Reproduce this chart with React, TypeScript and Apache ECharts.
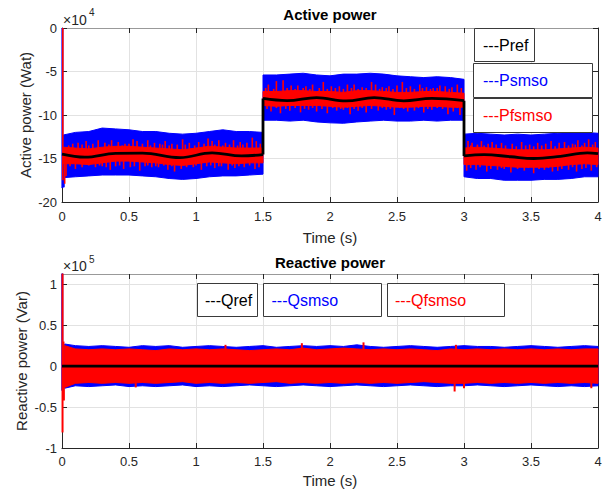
import React, { useEffect, useRef } from 'react';
import * as echarts from 'echarts';

const FONT = '"Liberation Sans", Arial, Helvetica, sans-serif';
const AX = '#262626';

// ---------- Active power (x10^4 W) ----------
const pBandT = [0.01, 0.1, 0.2, 0.3, 0.4, 0.5, 0.6, 0.7, 0.8, 0.9, 1.0, 1.1, 1.2, 1.3, 1.4, 1.5,
  1.5, 1.6, 1.7, 1.8, 1.9, 2.0, 2.1, 2.2, 2.3, 2.4, 2.5, 2.6, 2.7, 2.8, 2.9, 3.0,
  3.0, 3.1, 3.2, 3.3, 3.4, 3.5, 3.6, 3.7, 3.8, 3.9, 4.0];
const pBlueHi = [-12.3, -12.0, -11.9, -11.5, -11.6, -11.7, -11.9, -11.9, -12.1, -12.2, -12.1, -11.9, -11.7, -11.9, -11.9, -12.0,
  -5.4, -5.4, -5.3, -5.2, -5.4, -5.5, -5.3, -5.3, -5.2, -5.3, -5.5, -5.6, -5.7, -5.6, -5.7, -5.9,
  -12.2, -12.1, -12.2, -12.3, -12.2, -12.3, -12.2, -12.1, -12.0, -12.0, -12.1];
const pBlueLo = [-17.2, -17.1, -17.0, -16.9, -16.9, -16.9, -17.0, -17.1, -17.3, -17.4, -17.3, -17.1, -17.0, -17.0, -16.9, -16.8,
  -10.6, -10.6, -10.7, -10.6, -10.8, -10.9, -10.95, -10.8, -10.7, -10.6, -10.7, -10.7, -10.6, -10.7, -10.6, -10.6,
  -17.1, -17.3, -17.3, -17.5, -17.5, -17.5, -17.4, -17.4, -17.3, -17.1, -17.1];
const pRedHi = [-13.7, -13.8, -13.9, -13.7, -13.6, -13.6, -13.7, -13.8, -13.9, -14.0, -13.8, -13.6, -13.7, -13.8, -13.8, -13.8,
  -7.3, -7.3, -7.2, -7.2, -7.3, -7.3, -7.4, -7.2, -7.2, -7.3, -7.4, -7.4, -7.3, -7.3, -7.4, -7.5,
  -13.8, -13.7, -13.8, -13.9, -14.0, -14.0, -14.0, -13.9, -13.8, -13.7, -13.8];
const pRedLo = [-15.6, -15.6, -15.7, -15.5, -15.3, -15.3, -15.4, -15.5, -15.7, -15.8, -15.6, -15.4, -15.5, -15.6, -15.5, -15.5,
  -8.9, -9.0, -8.9, -8.9, -8.9, -9.0, -9.1, -9.0, -8.9, -9.0, -9.1, -9.1, -9.0, -9.0, -9.1, -9.1,
  -15.7, -15.7, -15.8, -15.9, -16.0, -16.0, -16.0, -15.9, -15.7, -15.6, -15.7];

const prefT = [0.0, 0.17, 0.4, 0.6, 0.88, 1.12, 1.34, 1.5,
  1.5, 1.68, 1.9, 2.12, 2.33, 2.55, 2.76, 3.0,
  3.0, 3.15, 3.35, 3.52, 3.72, 3.92, 4.0];
const prefV = [-14.5, -14.85, -14.4, -14.38, -14.9, -14.35, -14.7, -14.55,
  -8.1, -8.35, -8.0, -8.38, -8.0, -8.37, -8.1, -8.35,
  -14.7, -14.55, -14.8, -15.0, -14.75, -14.35, -14.45];

const pStepT = [1.5, 3.0];
const pLevel = [-14.6, -8.2, -14.7];

const pRedSpikes: number[][] = [
  [0.006, 0], [0.006, -17.5], [0.02, -17.9], [0.03, -17.0],
  // segment 1, tall
  [0.08, -13.3], [0.12, -13.2], [0.18, -13.0], [0.23, -13.3], [0.27, -12.9], [0.32, -13.2], [0.37, -12.9],
  [0.42, -13.1], [0.47, -13.3], [0.53, -12.8], [0.56, -13.0], [0.6, -13.3], [0.64, -12.9], [0.69, -13.2],
  [0.73, -13.3], [0.77, -13.0], [0.82, -13.3], [0.86, -13.4], [0.9, -12.8], [0.95, -13.2], [1.02, -13.1],
  [1.06, -13.3], [1.09, -12.7], [1.12, -13.0], [1.17, -12.9], [1.22, -13.2], [1.28, -12.9], [1.33, -13.1],
  [1.38, -13.2], [1.42, -12.6], [1.45, -13.0],
  [0.1, -16.2], [0.15, -16.0], [0.25, -16.0], [0.3, -15.9], [0.36, -16.3], [0.46, -16.2], [0.51, -16.0],
  [0.58, -16.4], [0.62, -15.9], [0.67, -16.0], [0.72, -16.0], [0.79, -16.3], [0.84, -16.5], [0.89, -16.2],
  [0.98, -16.0], [1.04, -16.3], [1.14, -16.1], [1.19, -15.9], [1.24, -16.3], [1.29, -16.1], [1.36, -16.0], [1.44, -16.2],
  // segment 1, short
  [0.05, -13.5], [0.15, -13.4], [0.2, -13.5], [0.35, -13.4], [0.45, -13.5], [0.5, -13.3], [0.66, -13.5],
  [0.75, -13.4], [0.8, -13.5], [0.92, -13.4], [0.99, -13.5], [1.14, -13.4], [1.2, -13.5], [1.25, -13.4],
  [1.31, -13.5], [1.35, -13.4], [1.48, -13.3],
  [0.06, -15.9], [0.2, -15.8], [0.28, -15.8], [0.33, -16.0], [0.4, -15.9], [0.43, -15.8], [0.54, -15.9],
  [0.64, -15.8], [0.7, -15.9], [0.76, -15.8], [0.82, -15.9], [0.93, -16.0], [1.0, -15.8], [1.08, -15.9],
  [1.11, -15.8], [1.17, -15.9], [1.27, -15.8], [1.32, -15.9], [1.4, -15.8], [1.47, -16.0],
  // segment 2, tall
  [1.54, -6.5], [1.6, -6.1], [1.65, -6.0], [1.71, -6.6], [1.76, -6.6], [1.82, -6.7], [1.87, -6.5], [1.95, -6.2],
  [2.01, -6.7], [2.07, -6.7], [2.13, -6.5], [2.18, -6.5], [2.24, -6.8], [2.31, -6.2], [2.34, -6.5], [2.39, -6.8],
  [2.44, -6.7], [2.5, -6.6], [2.54, -6.2], [2.6, -6.7], [2.67, -6.5], [2.72, -6.8], [2.77, -6.9], [2.82, -6.6],
  [2.86, -6.7], [2.91, -6.8], [2.95, -6.5],
  [1.56, -9.6], [1.63, -9.8], [1.7, -9.5], [1.78, -9.7], [1.84, -9.4], [1.9, -9.6], [1.98, -9.8], [2.05, -9.5],
  [2.1, -9.4], [2.15, -9.9], [2.21, -9.5], [2.27, -9.7], [2.36, -9.5], [2.42, -9.4], [2.48, -10.0], [2.58, -9.6],
  [2.63, -9.5], [2.7, -9.7], [2.76, -9.4], [2.88, -9.9], [2.92, -9.6], [2.97, -10.0],
  // segment 2, short
  [1.52, -6.9], [1.58, -7.0], [1.68, -6.9], [1.74, -7.0], [1.8, -6.9], [1.85, -7.0], [1.92, -6.9], [1.98, -7.0],
  [2.04, -6.9], [2.1, -7.0], [2.16, -6.9], [2.21, -7.0], [2.27, -6.9], [2.37, -7.0], [2.42, -6.9], [2.47, -7.0],
  [2.57, -6.9], [2.63, -7.0], [2.69, -6.9], [2.75, -7.0], [2.8, -6.9], [2.89, -7.0], [2.98, -6.9],
  [1.53, -9.3], [1.6, -9.2], [1.67, -9.3], [1.74, -9.2], [1.81, -9.3], [1.87, -9.2], [1.94, -9.3], [2.02, -9.2],
  [2.08, -9.3], [2.13, -9.2], [2.18, -9.3], [2.24, -9.2], [2.31, -9.3], [2.39, -9.2], [2.45, -9.3], [2.52, -9.2],
  [2.55, -9.3], [2.66, -9.2], [2.73, -9.3], [2.8, -9.2], [2.84, -9.3], [2.95, -9.2],
  // segment 3, tall
  [3.03, -13.0], [3.06, -13.2], [3.13, -13.0], [3.18, -13.3], [3.21, -13.1], [3.28, -13.2], [3.36, -13.3],
  [3.43, -13.1], [3.49, -13.4], [3.55, -13.2], [3.61, -13.3], [3.65, -13.0], [3.71, -13.2], [3.75, -13.1],
  [3.81, -13.3], [3.85, -12.9], [3.9, -13.2], [3.93, -12.8], [3.98, -13.1],
  [3.02, -16.4], [3.09, -16.3], [3.17, -16.5], [3.25, -16.3], [3.3, -16.2], [3.35, -16.6], [3.45, -16.4],
  [3.52, -16.7], [3.6, -16.3], [3.66, -16.5], [3.7, -16.4], [3.78, -16.3], [3.84, -16.5], [3.88, -16.2], [3.95, -16.4],
  // segment 3, short
  [3.05, -13.5], [3.1, -13.4], [3.15, -13.5], [3.24, -13.4], [3.31, -13.5], [3.39, -13.6], [3.46, -13.5],
  [3.52, -13.6], [3.58, -13.5], [3.68, -13.6], [3.78, -13.5], [3.83, -13.4], [3.88, -13.5], [3.96, -13.4],
  [3.05, -16.1], [3.12, -16.0], [3.2, -16.2], [3.28, -16.1], [3.33, -16.0], [3.4, -16.2], [3.48, -16.1],
  [3.56, -16.2], [3.63, -16.1], [3.73, -16.2], [3.81, -16.0], [3.91, -16.1], [3.99, -16.0],
];
const pBlueSpikes: number[][] = [[0.003, 0], [0.003, -18.4], [0.013, -18.3]];

// ---------- Reactive power (x10^5 Var) ----------
const qT = [0.02, 0.1, 0.2, 0.3, 0.4, 0.5, 0.6, 0.7, 0.8, 0.9, 1.0, 1.1, 1.2, 1.3, 1.4, 1.5, 1.6, 1.7, 1.8, 1.9,
  2.0, 2.1, 2.2, 2.3, 2.4, 2.5, 2.6, 2.7, 2.8, 2.9, 3.0, 3.1, 3.2, 3.3, 3.4, 3.5, 3.6, 3.7, 3.8, 3.9, 4.0];
const qBlueHi = [0.27, 0.25, 0.24, 0.25, 0.24, 0.23, 0.25, 0.24, 0.25, 0.23,
  0.24, 0.25, 0.24, 0.23, 0.24, 0.25, 0.23, 0.24, 0.25, 0.24,
  0.25, 0.24, 0.26, 0.24, 0.23, 0.24, 0.25, 0.24, 0.23, 0.24,
  0.25, 0.24, 0.24, 0.23, 0.24, 0.25, 0.24, 0.23, 0.24, 0.25, 0.24];
const qBlueLo = [-0.27, -0.24, -0.25, -0.24, -0.23, -0.25, -0.24, -0.25, -0.24, -0.23,
  -0.25, -0.24, -0.25, -0.24, -0.23, -0.24, -0.25, -0.24, -0.23, -0.24,
  -0.25, -0.24, -0.23, -0.24, -0.25, -0.24, -0.23, -0.24, -0.25, -0.24,
  -0.24, -0.23, -0.24, -0.25, -0.24, -0.23, -0.24, -0.25, -0.24, -0.25, -0.24];
const qRedHi = [0.25, 0.21, 0.2, 0.21, 0.2, 0.21, 0.2, 0.19, 0.21, 0.2,
  0.21, 0.2, 0.21, 0.2, 0.19, 0.2, 0.21, 0.2, 0.22, 0.2,
  0.21, 0.22, 0.21, 0.2, 0.21, 0.2, 0.21, 0.2, 0.19, 0.21,
  0.2, 0.21, 0.2, 0.21, 0.2, 0.21, 0.2, 0.21, 0.2, 0.21, 0.21];
const qRedLo = [-0.26, -0.21, -0.2, -0.21, -0.2, -0.21, -0.2, -0.21, -0.2, -0.19,
  -0.21, -0.2, -0.21, -0.2, -0.21, -0.2, -0.19, -0.21, -0.2, -0.21,
  -0.2, -0.21, -0.2, -0.21, -0.2, -0.21, -0.2, -0.19, -0.2, -0.21,
  -0.21, -0.2, -0.21, -0.2, -0.21, -0.2, -0.21, -0.2, -0.21, -0.2, -0.21];
const qRefT = [0, 4];
const qRefV = [0, 0];
const qStepT: number[] = [];
const qLevel = [0];
const qRedSpikes: number[][] = [
  [0.004, 1.13], [0.004, -0.81], [0.011, 0.3], [0.014, -0.42], [0.55, -0.26], [1.22, 0.26],
  [1.79, 0.28], [2.25, 0.29], [2.93, -0.31], [2.94, 0.26], [3.0, -0.27], [3.95, -0.27],
];
const qBlueSpikes: number[][] = [[0.002, 1.13], [0.002, -0.3]];

const xTickLabels = ['0', '0.5', '1', '1.5', '2', '2.5', '3', '3.5', '4'];

// ---------- helpers ----------
function segmentsOf(t: number[]) {
  const segs: number[][] = [];
  let s = 0;
  for (let i = 1; i < t.length; i++) {
    if (t[i] === t[i - 1]) { segs.push([s, i - 1]); s = i; }
  }
  segs.push([s, t.length - 1]);
  return segs;
}

function levelAt(t: number, steps: number[], levels: number[]) {
  let k = 0;
  while (k < steps.length && t >= steps[k]) k++;
  return levels[k];
}

function bandSeries(name: string, ai: number, t: number[], hi: number[], lo: number[], color: string, z: number) {
  const segs = segmentsOf(t);
  return {
    type: 'custom', name, coordinateSystem: 'cartesian2d', xAxisIndex: ai, yAxisIndex: ai, silent: true, z,
    data: t.map((x, i) => [x, lo[i], hi[i]]),
    encode: { x: 0, y: [1, 2] },
    renderItem: (params: any, api: any) => {
      if (params.dataIndex !== 0) return null;
      const children = segs.map(([s, e]) => {
        const top: number[][] = [];
        const bot: number[][] = [];
        for (let i = s; i <= e; i++) {
          top.push(api.coord([t[i], hi[i]]));
          bot.push(api.coord([t[i], lo[i]]));
        }
        return {
          type: 'polygon',
          shape: { points: top.concat(bot.reverse()) },
          style: { fill: color, stroke: color, lineWidth: 1 },
        };
      });
      return { type: 'group', children };
    },
  };
}

function spikeSeries(name: string, ai: number, spikes: number[][], steps: number[], levels: number[], color: string, w: number, z: number) {
  return {
    type: 'custom', name, coordinateSystem: 'cartesian2d', xAxisIndex: ai, yAxisIndex: ai, silent: true, z,
    data: spikes.map((s) => [s[0], s[1]]),
    encode: { x: 0, y: 1 },
    renderItem: (params: any, api: any) => {
      const t = api.value(0);
      const v = api.value(1);
      const b = levelAt(t, steps, levels);
      const p1 = api.coord([t, v]);
      const p2 = api.coord([t, b]);
      return {
        type: 'rect',
        shape: { x: p1[0] - w / 2, y: Math.min(p1[1], p2[1]), width: w, height: Math.abs(p2[1] - p1[1]) },
        style: { fill: color },
      };
    },
  };
}

function refSeries(name: string, ai: number, t: number[], v: number[], z: number) {
  const segs = segmentsOf(t);
  const out: any[] = segs.map(([s, e]) => ({
    type: 'line', name, xAxisIndex: ai, yAxisIndex: ai, smooth: 0.4, symbol: 'none', silent: true, z,
    lineStyle: { color: '#000', width: 2.8 },
    data: t.slice(s, e + 1).map((x, i) => [x, v[s + i]]),
  }));
  for (let k = 1; k < segs.length; k++) {
    const i = segs[k][0];
    out.push({
      type: 'line', name, xAxisIndex: ai, yAxisIndex: ai, symbol: 'none', silent: true, z,
      lineStyle: { color: '#000', width: 2.8 },
      data: [[t[i - 1], v[i - 1]], [t[i], v[i]]],
    });
  }
  return out;
}

function xBottom(gi: number, gap: number, margin: number) {
  return {
    type: 'value', gridIndex: gi, min: 0, max: 4, interval: 0.5, position: 'bottom',
    name: 'Time (s)', nameLocation: 'middle', nameGap: gap, nameMoveOverlap: false,
    nameTextStyle: { fontSize: 15, color: AX, fontFamily: FONT },
    axisLine: { show: true, onZero: false, lineStyle: { color: AX, width: 1 } },
    axisTick: { show: true, inside: true, length: 5, lineStyle: { color: AX } },
    axisLabel: {
      color: AX, fontSize: 13, margin, fontFamily: FONT,
      formatter: (val: number) => xTickLabels[Math.round(val * 2)] ?? '',
    },
    splitLine: { show: true, lineStyle: { color: '#e2e2e2', width: 1 } },
  };
}
function xTop(gi: number) {
  return {
    type: 'value', gridIndex: gi, min: 0, max: 4, interval: 0.5, position: 'top',
    axisLine: { show: true, onZero: false, lineStyle: { color: '#999', width: 1 } },
    axisTick: { show: true, inside: true, length: 5, lineStyle: { color: AX } },
    axisLabel: { show: false }, splitLine: { show: false },
  };
}
function yLeft(gi: number, min: number, max: number, interval: number, name: string, gap: number) {
  return {
    type: 'value', gridIndex: gi, min, max, interval, position: 'left',
    name, nameLocation: 'middle', nameGap: gap, nameMoveOverlap: false,
    nameTextStyle: { fontSize: 15, color: AX, fontFamily: FONT },
    axisLine: { show: true, onZero: false, lineStyle: { color: AX, width: 1 } },
    axisTick: { show: true, inside: true, length: 5, lineStyle: { color: AX } },
    axisLabel: { color: AX, fontSize: 13, margin: 5, fontFamily: FONT, showMaxLabel: max === 0 },
    splitLine: { show: true, lineStyle: { color: '#e2e2e2', width: 1 } },
  };
}
function yRight(gi: number, min: number, max: number, interval: number) {
  return {
    type: 'value', gridIndex: gi, min, max, interval, position: 'right',
    axisLine: { show: true, onZero: false, lineStyle: { color: AX, width: 1 } },
    axisTick: { show: true, inside: true, length: 5, lineStyle: { color: AX } },
    axisLabel: { show: false }, splitLine: { show: false },
  };
}

function txt(text: string, x: number, y: number, size: number, color: string, opts: any = {}) {
  return {
    type: 'text', x, y, z: 100, silent: true,
    style: {
      text, fill: color, fontSize: size, fontFamily: FONT, fontWeight: opts.bold ? 'bold' : 'normal',
      align: opts.align || 'left', textAlign: opts.align || 'left',
      verticalAlign: 'middle', textVerticalAlign: 'middle',
    },
  };
}
function box(x: number, y: number, w: number, h: number) {
  return {
    type: 'rect', z: 90, silent: true,
    shape: { x: x + 0.5, y: y + 0.5, width: w, height: h },
    style: { fill: '#fff', stroke: '#3a3a3a', lineWidth: 1 },
  };
}

export default function App() {
  const ref = useRef<HTMLDivElement>(null);
  useEffect(() => {
    if (!ref.current) return;
    const chart = echarts.init(ref.current, null, { renderer: 'svg' });
    const option: any = {
      animation: false,
      backgroundColor: '#fff',
      textStyle: { fontFamily: FONT },
      grid: [
        { left: 62, top: 28, width: 536, height: 174 },
        { left: 62, top: 274, width: 536, height: 174 },
      ],
      xAxis: [xBottom(0, 28, 8), xTop(0), xBottom(1, 25, 7), xTop(1)],
      yAxis: [
        yLeft(0, -20, 0, 5, 'Active power (Wat)', 29), yRight(0, -20, 0, 5),
        yLeft(1, -1, 1.125, 0.5, 'Reactive power (Var)', 33), yRight(1, -1, 1.125, 0.5),
      ],
      series: [
        bandSeries('Psmso', 0, pBandT, pBlueHi, pBlueLo, '#0000ff', 2),
        spikeSeries('Psmso', 0, pBlueSpikes, pStepT, pLevel, '#0000ff', 2, 3),
        bandSeries('Pfsmso', 0, pBandT, pRedHi, pRedLo, '#ff0000', 4),
        spikeSeries('Pfsmso', 0, pRedSpikes, pStepT, pLevel, '#ff0000', 1.6, 5),
        ...refSeries('Pref', 0, prefT, prefV, 6),
        bandSeries('Qsmso', 2, qT, qBlueHi, qBlueLo, '#0000ff', 2),
        spikeSeries('Qsmso', 2, qBlueSpikes, qStepT, qLevel, '#0000ff', 2, 3),
        bandSeries('Qfsmso', 2, qT, qRedHi, qRedLo, '#ff0000', 4),
        spikeSeries('Qfsmso', 2, qRedSpikes, qStepT, qLevel, '#ff0000', 2, 5),
        ...refSeries('Qref', 2, qRefT, qRefV, 6),
      ],
      graphic: [
        txt('Active power', 330, 14, 15, '#000', { bold: true, align: 'center' }),
        txt('Reactive power', 330, 262, 15, '#000', { bold: true, align: 'center' }),
        txt('×10', 63, 19.5, 14, AX),
        txt('4', 89, 12.5, 10, AX),
        txt('×10', 63, 266, 14, AX),
        txt('5', 89, 259.5, 10, AX),
        box(474, 28, 60, 33),
        box(473, 63, 119, 34),
        box(473, 98, 119, 34),
        txt('---Pref', 483, 45, 16, '#000'),
        txt('---Psmso', 483, 80, 16, '#0000ff'),
        txt('---Pfsmso', 483, 115, 16, '#ff0000'),
        box(197, 283, 60, 33),
        box(263, 283, 118, 33),
        box(387, 283, 117, 33),
        txt('---Qref', 205, 300, 16, '#000'),
        txt('---Qsmso', 271.5, 300, 16, '#0000ff'),
        txt('---Qfsmso', 395, 300, 16, '#ff0000'),
      ],
    };
    chart.setOption(option);
    return () => chart.dispose();
  }, []);
  return <div ref={ref} style={{ width: 611, height: 497, margin: -8 }} />;
}
